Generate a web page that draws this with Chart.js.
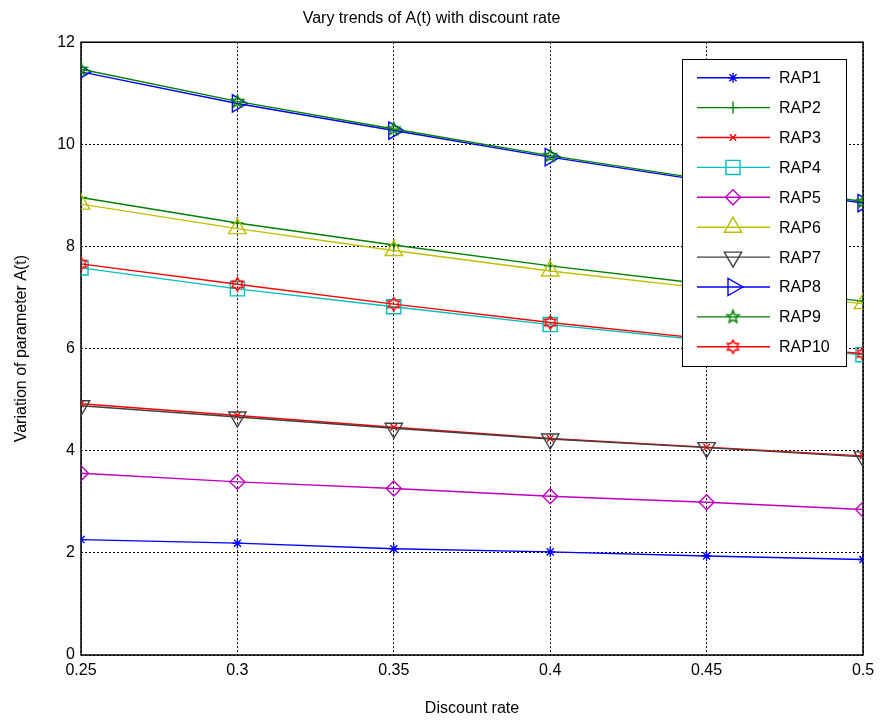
<!DOCTYPE html>
<html>
<head>
<meta charset="utf-8">
<script src="https://cdn.jsdelivr.net/npm/chart.js@4"></script>
<style>
  html, body { margin: 0; padding: 0; background: #fff; }
  #wrap { width: 882px; height: 723px; }
</style>
</head>
<body>
<div id="wrap"><canvas id="chart" width="882" height="723"></canvas></div>
<script>
// discount rate on the x axis
const discountRates = [0.25, 0.3, 0.35, 0.4, 0.45, 0.5];
const xTickLabels = ["0.25", "0.3", "0.35", "0.4", "0.45", "0.5"];
const yTicks = [0, 2, 4, 6, 8, 10, 12];

// A(t) per series
const rap1 = [2.26, 2.19, 2.08, 2.02, 1.94, 1.87];
const rap2 = [8.96, 8.46, 8.03, 7.62, 7.26, 6.93];
const rap3 = [4.92, 4.69, 4.46, 4.24, 4.07, 3.90];
const rap4 = [7.58, 7.17, 6.82, 6.47, 6.16, 5.88];
const rap5 = [3.56, 3.39, 3.26, 3.11, 2.99, 2.85];
const rap6 = [8.83, 8.35, 7.92, 7.52, 7.18, 6.88];
const rap7 = [4.88, 4.66, 4.44, 4.23, 4.06, 3.88];
const rap8 = [11.42, 10.80, 10.27, 9.75, 9.28, 8.85];
const rap9 = [11.47, 10.84, 10.30, 9.78, 9.31, 8.88];
const rap10 = [7.66, 7.26, 6.87, 6.51, 6.19, 5.90];

const seriesNames = ["RAP1", "RAP2", "RAP3", "RAP4", "RAP5", "RAP6", "RAP7", "RAP8", "RAP9", "RAP10"];
const seriesValues = [rap1, rap2, rap3, rap4, rap5, rap6, rap7, rap8, rap9, rap10];

const FONT = "'Liberation Sans', Arial, sans-serif";

// hollow star markers drawn on small canvases
function starCanvas(color, points, outer, inner) {
  const s = Math.ceil(outer * 2 + 4);
  const c = document.createElement("canvas");
  c.width = s;
  c.height = s;
  const g = c.getContext("2d");
  g.strokeStyle = color;
  g.lineWidth = 1.5;
  g.beginPath();
  for (let i = 0; i < points * 2; i++) {
    const r = i % 2 === 0 ? outer : inner;
    const a = -Math.PI / 2 + (i * Math.PI) / points;
    const px = s / 2 + r * Math.cos(a);
    const py = s / 2 + r * Math.sin(a);
    if (i === 0) g.moveTo(px, py);
    else g.lineTo(px, py);
  }
  g.closePath();
  g.stroke();
  return c;
}

const pentagram = starCanvas("#008000", 5, 6.5, 2.8);
const hexagram = starCanvas("#ff0000", 6, 6.5, 3.8);

// marker look per series
const styles = [
  { color: "#0000ff", point: "star", radius: 5, rotation: 0 },
  { color: "#008000", point: "cross", radius: 6, rotation: 0 },
  { color: "#ff0000", point: "crossRot", radius: 4.5, rotation: 0 },
  { color: "#00bfbf", point: "rect", radius: 10, rotation: 0 },
  { color: "#bf00bf", point: "rectRot", radius: 7.5, rotation: 0 },
  { color: "#bfbf00", point: "triangle", radius: 10, rotation: 0 },
  { color: "#404040", point: "triangle", radius: 10, rotation: 180 },
  { color: "#0000ff", point: "triangle", radius: 10, rotation: 90 },
  { color: "#008000", point: pentagram, radius: 7, rotation: 0 },
  { color: "#ff0000", point: hexagram, radius: 7, rotation: 0 },
];

const datasets = seriesNames.map((name, i) => ({
  label: name,
  data: seriesValues[i].map((v, j) => ({ x: discountRates[j], y: v })),
  borderColor: styles[i].color,
  backgroundColor: "transparent",
  borderWidth: 1.4,
  pointStyle: styles[i].point,
  pointRadius: styles[i].radius,
  pointRotation: styles[i].rotation,
  pointBorderColor: styles[i].color,
  pointBackgroundColor: "transparent",
  pointBorderWidth: 1.4,
  order: seriesNames.length - i, // last series on top, like the original
  tension: 0,
}));

// black box round the plot area
const frame = {
  id: "frame",
  beforeDatasetsDraw(chart) {
    const a = chart.chartArea;
    const ctx = chart.ctx;
    ctx.save();
    ctx.strokeStyle = "#000";
    ctx.lineWidth = 1.5;
    ctx.strokeRect(a.left, a.top, a.right - a.left, a.bottom - a.top);
    ctx.restore();
  },
};

// legend box inside the plot, line sample with marker
const boxLegend = {
  id: "boxLegend",
  afterDraw(chart) {
    const ctx = chart.ctx;
    const x0 = 682, y0 = 59, w = 164, h = 307;
    ctx.save();
    ctx.fillStyle = "#fff";
    ctx.fillRect(x0, y0, w, h);
    ctx.strokeStyle = "#000";
    ctx.lineWidth = 1;
    ctx.strokeRect(x0 + 0.5, y0 + 0.5, w, h);
    ctx.font = "16px " + FONT;
    ctx.textBaseline = "middle";
    seriesNames.forEach((name, i) => {
      const y = 77.7 + i * 29.9;
      const st = styles[i];
      ctx.strokeStyle = st.color;
      ctx.lineWidth = 1.4;
      ctx.beginPath();
      ctx.moveTo(697, y);
      ctx.lineTo(770, y);
      ctx.stroke();
      ctx.fillStyle = "rgba(0,0,0,0)";
      ctx.strokeStyle = st.color;
      ctx.lineWidth = 1.4;
      Chart.helpers.drawPoint(ctx, {
        pointStyle: st.point,
        radius: st.radius,
        rotation: st.rotation,
        borderWidth: 1.4,
      }, 733, y);
      ctx.fillStyle = "#000";
      ctx.fillText(name, 779, y + 1);
    });
    ctx.restore();
  },
};

const ctx = document.getElementById("chart").getContext("2d");
const chart = new Chart(ctx, {
  type: "line",
  data: { datasets: datasets },
  options: {
    responsive: false,
    animation: false,
    layout: { padding: { left: 0, right: 19, top: 0, bottom: 0 } },
    plugins: {
      legend: { display: false },
      tooltip: { enabled: false },
      title: {
        display: true,
        text: "Vary trends of A(t) with discount rate",
        color: "#000",
        font: { family: FONT, size: 16, weight: "normal" },
        padding: { top: 9, bottom: 14 },
      },
    },
    scales: {
      x: {
        type: "linear",
        min: 0.25,
        max: 0.5,
        afterBuildTicks: (s) => { s.ticks = discountRates.map((v) => ({ value: v })); },
        afterFit: (s) => { s.height = 68; },
        ticks: {
          color: "#000",
          font: { family: FONT, size: 16 },
          padding: 6,
          maxRotation: 0,
          callback: (v) => xTickLabels[discountRates.indexOf(v)] ?? "",
        },
        grid: { color: "#000", lineWidth: 1, drawTicks: false },
        border: { display: false, dash: [2, 2] },
        title: {
          display: true,
          text: "Discount rate",
          color: "#000",
          font: { family: FONT, size: 16 },
          padding: { top: 0, bottom: 5 },
        },
      },
      y: {
        min: 0,
        max: 12,
        afterBuildTicks: (s) => { s.ticks = yTicks.map((v) => ({ value: v })); },
        afterFit: (s) => { s.width = 81; },
        ticks: {
          color: "#000",
          font: { family: FONT, size: 16 },
          padding: 6,
        },
        grid: { color: "#000", lineWidth: 1, drawTicks: false },
        border: { display: false, dash: [2, 2] },
        title: {
          display: true,
          text: "Variation of parameter A(t)",
          color: "#000",
          font: { family: FONT, size: 16 },
          padding: { top: 12, bottom: 0 },
        },
      },
    },
  },
  plugins: [frame, boxLegend],
});
</script>
</body>
</html>
